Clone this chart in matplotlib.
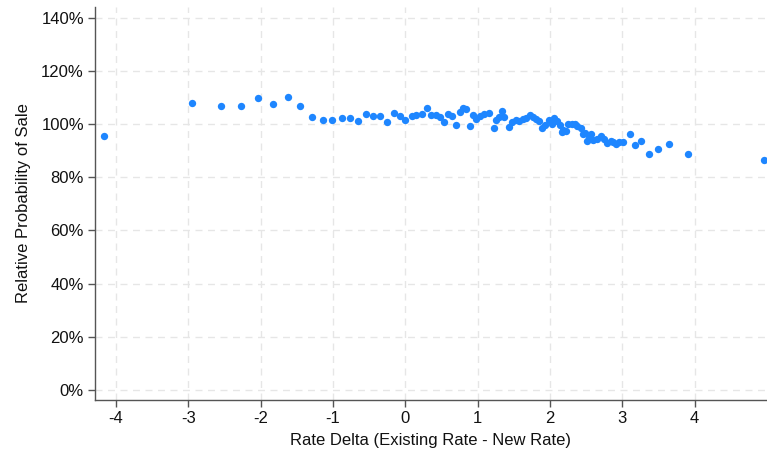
import matplotlib
matplotlib.use("Agg")
import matplotlib.pyplot as plt
from matplotlib.ticker import FuncFormatter

# ------------------------------
# Data
# ------------------------------
rate_delta = [
    -4.16, -2.95, -2.55, -2.27, -2.03, -1.83, -1.62, -1.45, -1.29, -1.14,
    -1.01, -0.88, -0.76, -0.65, -0.55, -0.45, -0.35, -0.26, -0.16, -0.08,
    0.00, 0.09, 0.15, 0.23, 0.30, 0.36, 0.43, 0.48, 0.53, 0.59,
    0.65, 0.70, 0.75, 0.80, 0.84, 0.89, 0.93, 0.98, 1.03, 1.09,
    1.15, 1.22, 1.25, 1.30, 1.33, 1.37, 1.43, 1.48, 1.53, 1.57,
    1.62, 1.67, 1.72, 1.76, 1.81, 1.85, 1.89, 1.93, 1.99, 2.03,
    2.05, 2.09, 2.14, 2.16, 2.18, 2.22, 2.25, 2.30, 2.34, 2.38,
    2.43, 2.46, 2.49, 2.51, 2.54, 2.56, 2.60, 2.65, 2.70, 2.74,
    2.79, 2.84, 2.87, 2.91, 2.96, 3.01, 3.10, 3.18, 3.26, 3.37,
    3.49, 3.65, 3.91, 4.96,
]
rel_prob = [
    95.5, 107.8, 106.9, 106.9, 109.7, 107.5, 110.1, 106.8, 102.8, 101.6,
    101.4, 102.2, 102.2, 101.0, 103.8, 103.1, 103.1, 100.9, 104.3, 102.9,
    101.4, 103.1, 103.5, 103.7, 105.9, 103.4, 103.3, 102.6, 100.9, 103.6,
    103.1, 99.7, 104.6, 106.2, 105.5, 99.4, 103.3, 102.0, 103.0, 103.6,
    104.0, 98.4, 101.4, 102.6, 105.0, 102.7, 98.8, 100.7, 101.4, 101.1,
    101.8, 102.2, 103.2, 102.5, 101.8, 101.1, 98.4, 99.8, 101.6, 99.9,
    102.2, 101.1, 99.6, 97.1, 97.8, 97.5, 99.9, 100.1, 99.9, 99.3,
    98.4, 96.1, 96.7, 93.7, 94.6, 96.3, 93.8, 94.2, 95.4, 94.2,
    92.8, 93.5, 93.1, 92.4, 93.4, 93.4, 96.3, 92.0, 93.7, 88.9,
    90.6, 92.3, 88.9, 86.4,
]

x_ticks = [-4, -3, -2, -1, 0, 1, 2, 3, 4]
y_ticks = [0, 20, 40, 60, 80, 100, 120, 140]

# ------------------------------
# Plotting settings
# ------------------------------
plt.rcParams.update({
    'font.family': ['Liberation Sans', 'DejaVu Sans'],
    'font.size': 12,
    'axes.unicode_minus': False,
})

fig = plt.figure(figsize=(7.67, 4.5), dpi=100)
ax = fig.add_axes([95 / 767, 1 - 400 / 450, 1 - 95 / 767, (400 - 7) / 450])

ax.scatter(rate_delta, rel_prob, s=28, color='#1E86FF', linewidths=0, zorder=3)

ax.set_xlim(-4.29, 5.0)
ax.set_ylim(-3.8, 144.0)
ax.set_xticks(x_ticks)
ax.set_yticks(y_ticks)
ax.yaxis.set_major_formatter(FuncFormatter(lambda v, _: f'{v:.0f}%'))

ax.grid(True, color='#E6E6E6', linestyle=(0, (5, 4)), linewidth=1.0, zorder=0)
ax.set_axisbelow(True)

for side in ('top', 'right'):
    ax.spines[side].set_visible(False)
for side in ('left', 'bottom'):
    ax.spines[side].set_color('#555555')
    ax.spines[side].set_linewidth(1.0)

ax.tick_params(axis='both', direction='out', length=5, width=1.0, color='#555555',
               labelsize=12, labelcolor='#111111', pad=3)

ax.set_xlabel('Rate Delta (Existing Rate - New Rate)', fontsize=12, color='#111111', labelpad=5)
ax.set_ylabel('Relative Probability of Sale', fontsize=12, color='#111111', labelpad=7)

fig.savefig('out.png', dpi=100)
